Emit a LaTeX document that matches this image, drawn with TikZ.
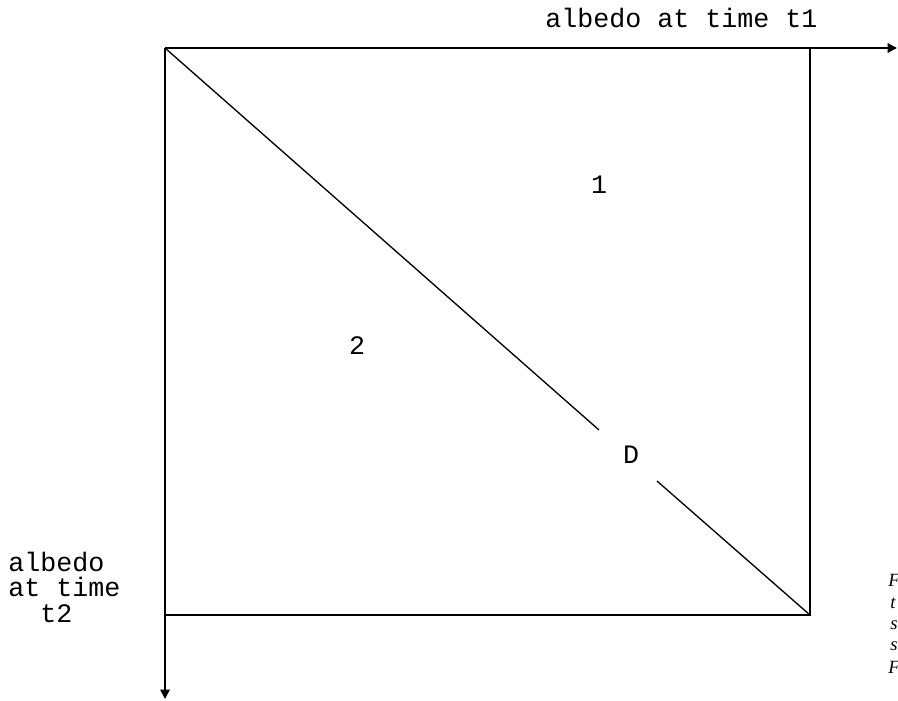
\documentclass[tikz,border=0pt]{standalone}
\usepackage{fontspec}
\setmonofont{Liberation Mono}
\newfontfamily\capfont{Liberation Serif}
\usetikzlibrary{arrows.meta}
\begin{document}
\begin{tikzpicture}[x=0.75pt,y=-0.75pt,
  axis/.style={line width=1.4pt,-{Triangle[length=7pt,width=7pt]}},
  frame/.style={line width=1.4pt},
  diag/.style={line width=1pt},
  lbl/.style={font=\fontsize{20}{19}\selectfont\ttfamily, inner sep=0pt},
  captext/.style={font=\fontsize{14}{16}\selectfont\capfont\itshape, anchor=base west, inner sep=0pt}]
\useasboundingbox (0,0) rectangle (898,700);
\coordinate (O) at (165,48);
\coordinate (TR) at (810,48);
\coordinate (BR) at (810,615);
\coordinate (BL) at (165,615);
\coordinate (xend) at (897,48);
\coordinate (yend) at (165,699);
\coordinate (g1) at (599,430);
\coordinate (g2) at (657,481);
\draw[axis] (O) -- (xend);
\draw[axis] (O) -- (yend);
\draw[frame] (TR) -- (BR) -- (BL);
\draw[diag] (O) -- (g1) (g2) -- (BR);
\node[lbl, anchor=base west] (xlab) at (545,27) {albedo at time t1};
\node[lbl, anchor=north west, align=left] (ylab) at (8,552) {albedo\\at time\\\phantom{at}t2};
\node[lbl] (r1) at (599,185) {1};
\node[lbl] (r2) at (357,346) {2};
\node[lbl] (d) at (631,455) {D};
\node[captext] (c1) at (888,586) {F};
\node[captext] (c2) at (890,608) {t};
\node[captext] (c3) at (890,629) {s};
\node[captext] (c4) at (890,650) {s};
\node[captext] (c5) at (888,673) {F};
\end{tikzpicture}
\end{document}
